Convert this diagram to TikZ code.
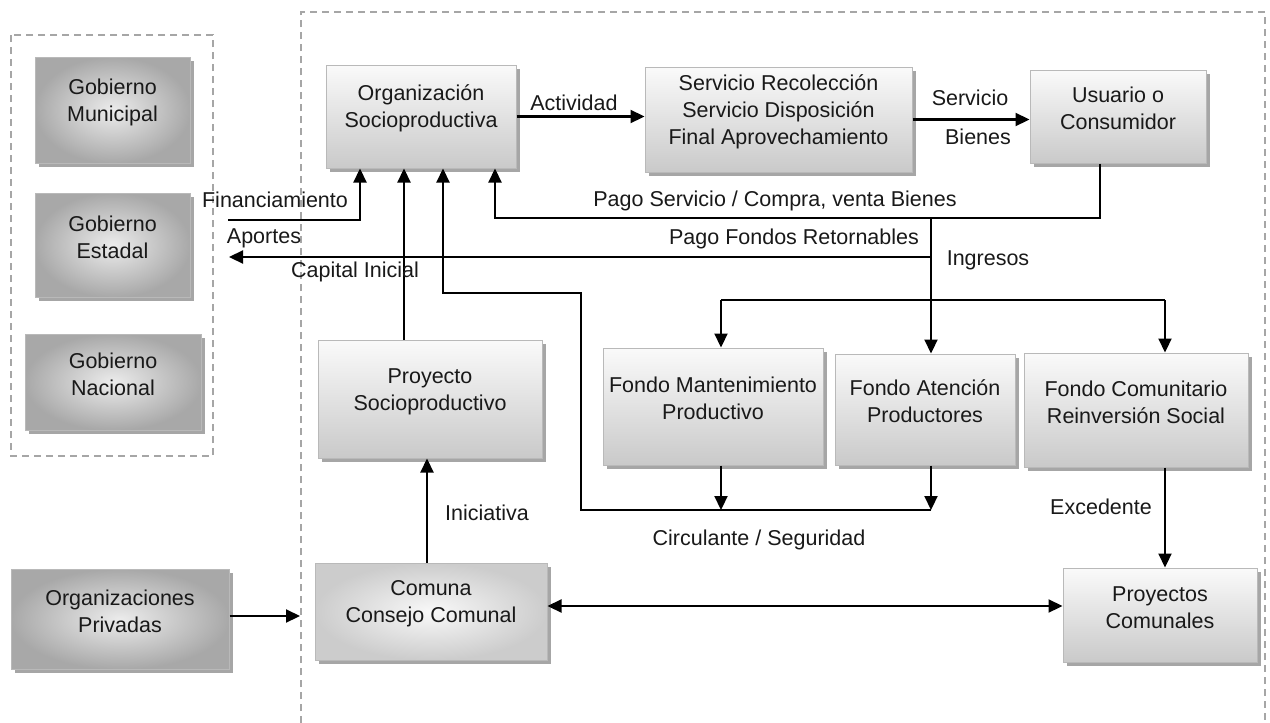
\documentclass[tikz,border=0pt]{standalone}
\usepackage{fontspec}
\setmainfont{Liberation Sans}
\usetikzlibrary{arrows.meta,shadows,fit,calc}
\begin{document}
\begin{tikzpicture}[x=1pt,y=-1pt,
  font=\fontsize{21.5}{27}\selectfont,
  basebox/.style={draw=gray!55, line width=1pt, inner sep=0pt, align=center, text=black!90,
     drop shadow={shadow xshift=4pt,shadow yshift=-4pt,fill=gray!70,opacity=1}},
  lightbox/.style={basebox, top color=gray!4, bottom color=gray!42},
  darkbox/.style={basebox, inner color=gray!15, outer color=gray!68},
  midbox/.style={basebox, inner color=gray!5, outer color=gray!40},
  conn/.style={line width=2.2pt, black},
  arr/.style={conn, -{Triangle[length=14pt,width=13pt]}},
  arrtwo/.style={conn, {Triangle[length=14pt,width=13pt]}-{Triangle[length=14pt,width=13pt]}},
  lbl/.style={inner sep=0pt, text=black!90},
  dashbox/.style={draw=gray!70, line width=2pt, dash pattern=on 7pt off 5pt}]
\useasboundingbox (0,0) rectangle (1270,723);
\fill[white] (0,0) rectangle (1270,723);

% dashed groups
\draw[dashbox] (11,35) rectangle (213,456);
\draw[dashbox] (301,723) -- (301,12) -- (1265,12) -- (1265,723);

% boxes
\node[darkbox, fit={(35,57) (190,163)}] (gm) {Gobierno\\Municipal};
\node[darkbox, fit={(35,193) (190,297)}] (ge) {Gobierno\\Estadal};
\node[darkbox, fit={(25,334) (201,430)}] (gn) {Gobierno\\Nacional};
\node[darkbox, fit={(11,569) (229,669)}] (op) {Organizaciones\\Privadas};
\node[lightbox, fit={(326,65) (516,168)}] (os) {Organización\\Socioproductiva};
\node[lightbox, fit={(645,67) (912,172)}] (sv) {Servicio Recolección\\Servicio Disposición\\Final Aprovechamiento};
\node[lightbox, fit={(1030,70) (1206,163)}] (us) {Usuario o\\Consumidor};
\node[lightbox, fit={(318,340) (542,458)}] (ps) {Proyecto\\Socioproductivo};
\node[midbox, fit={(315,563) (547,660)}] (cc) {Comuna\\Consejo Comunal};
\node[lightbox, fit={(603,348) (823,465)}] (fm) {Fondo Mantenimiento\\Productivo};
\node[lightbox, fit={(835,354) (1015,465)}] (fa) {Fondo Atención\\Productores};
\node[lightbox, fit={(1024,353) (1248,467)}] (fc) {Fondo Comunitario\\Reinversión Social};
\node[lightbox, fit={(1063,568) (1257,662)}] (pc) {Proyectos\\Comunales};

% free ends
\coordinate (finStart) at (228,220);
\coordinate (aportesEnd) at (229,257);
\coordinate (border) at (300,616);
\coordinate (ing) at (931,218);
\coordinate (ret) at (931,257);
\coordinate (brL) at (721,300);
\coordinate (brR) at (1165,300);
\coordinate (ciL) at (721,510);
\coordinate (ciR) at (931,510);

% connectors
\draw[arr] (os.east) -- (os.east -| sv.west);
\draw[arr] (sv.east) -- (sv.east -| us.west);
\draw[arr] (us.south -| 1100,0) -- (1100,218) -| (os.south -| 495,0);
\draw[arr] (ing) -- (fa.north -| ing);
\draw[arr] (ret) -- (aportesEnd);
\draw[conn] (brL) -- (brR);
\draw[arr] (brL) -- (fm.north -| brL);
\draw[arr] (brR) -- (fc.north -| brR);
\draw[arr] (finStart) -| (os.south -| 360,0);
\draw[arr] (ps.north -| 404,0) -- (os.south -| 404,0);
\draw[arr] (fm.south -| ciL) -- (ciL);
\draw[arr] (fa.south -| ciR) -- (ciR);
\draw[arr] (ciR) -- (581,510) -- (581,293) -| (os.south -| 443,0);
\draw[arr] (cc.north -| 427,0) -- (ps.south -| 427,0);
\draw[arr] (op.east |- border) -- (border);
\draw[arrtwo] (cc.east |- 0,606) -- (pc.west |- 0,606);
\draw[arr] (fc.south -| 1165,0) -- (pc.north -| 1165,0);

% labels
\node[lbl] (lAct) at (574,103) {Actividad};
\node[lbl] (lServ) at (970,98) {Servicio};
\node[lbl] (lBien) at (978,137) {Bienes};
\node[lbl] (lPago) at (775,201) {Pago Servicio / Compra, venta Bienes};
\node[lbl] (lFin) at (275,200) {Financiamiento};
\node[lbl] (lApo) at (264,238) {Aportes};
\node[lbl] (lCap) at (355,272) {Capital Inicial};
\node[lbl] (lRet) at (794,239) {Pago Fondos Retornables};
\node[lbl] (lIng) at (988,260) {Ingresos};
\node[lbl] (lIni) at (487,513) {Iniciativa};
\node[lbl] (lCir) at (759,540) {Circulante / Seguridad};
\node[lbl] (lExc) at (1101,507) {Excedente};
\end{tikzpicture}
\end{document}
